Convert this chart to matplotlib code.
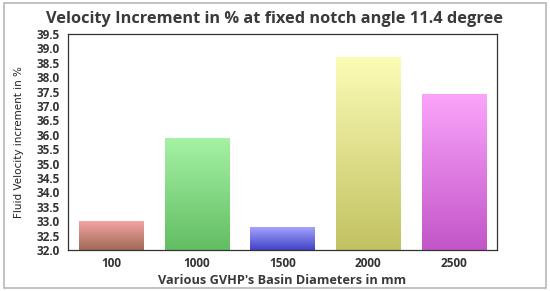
import numpy as np
import matplotlib.pyplot as plt
from matplotlib.colors import LinearSegmentedColormap
from matplotlib.patches import Rectangle

diameters = ["100", "1000", "1500", "2000", "2500"]
increment = [33.0, 35.9, 32.8, 38.7, 37.4]
# top colour, bottom colour of each bar gradient
top_colors = ["#f5a3a3", "#a6f2a6", "#a8a8ff", "#fcfcb6", "#fba4fb"]
bottom_colors = ["#9e6a55", "#62be62", "#4242c8", "#c2c262", "#c255c8"]
yticks = np.arange(32.0, 39.51, 0.5)

fig = plt.figure(figsize=(5.5, 2.91), dpi=100)
ax = fig.add_axes([0.1236, 0.1409, 0.78, 0.7423])

# outer grey border
fig.patches.append(Rectangle((0.008, 0.012), 0.984, 0.976, transform=fig.transFigure,
                             fill=False, edgecolor="#b8b8b8", linewidth=1.2))

bars = ax.bar(range(len(diameters)), increment, width=0.75, bottom=0,
              color="none", edgecolor="none")
ax.set_ylim(32.0, 39.5)
ax.set_xlim(-0.5, len(diameters) - 0.5)

grad = np.linspace(0, 1, 256).reshape(-1, 1)
for b, c1, c2 in zip(bars, top_colors, bottom_colors):
    cmap = LinearSegmentedColormap.from_list("g", [c1, c2])
    x0 = b.get_x()
    im = ax.imshow(grad, cmap=cmap, aspect="auto", origin="upper",
                   extent=[x0, x0 + b.get_width(), 32.0, b.get_height()], zorder=2)
    im.set_clip_path(b)

ax.set_xticks(range(len(diameters)))
ax.set_xticklabels(diameters)
ax.set_yticks(yticks)
ax.set_yticklabels(["%.1f" % v for v in yticks])
ax.tick_params(length=0, labelsize=8.5)
ax.tick_params(axis="y", pad=6)
ax.tick_params(axis="x", pad=5)
for lbl in ax.get_xticklabels() + ax.get_yticklabels():
    lbl.set_fontfamily("Open Sans")
    lbl.set_fontweight("bold")
    lbl.set_color("#333333")

for s in ax.spines.values():
    s.set_color("#333333")
    s.set_linewidth(0.9)

ax.set_xlabel("Various GVHP's Basin Diameters in mm", fontfamily="Open Sans",
              fontweight="bold", fontsize=9.2, color="#3a3a3a", labelpad=3)
ax.set_ylabel("Fluid Velocity increment in %", fontfamily="DejaVu Sans",
              fontsize=7.5, color="#222222", labelpad=9)
fig.text(0.5, 0.935, "Velocity Increment in % at fixed notch angle 11.4 degree",
         ha="center", va="center", fontfamily="Open Sans", fontweight="bold",
         fontsize=11.8, color="#3a3a3a")

fig.savefig("out.png", dpi=100)
